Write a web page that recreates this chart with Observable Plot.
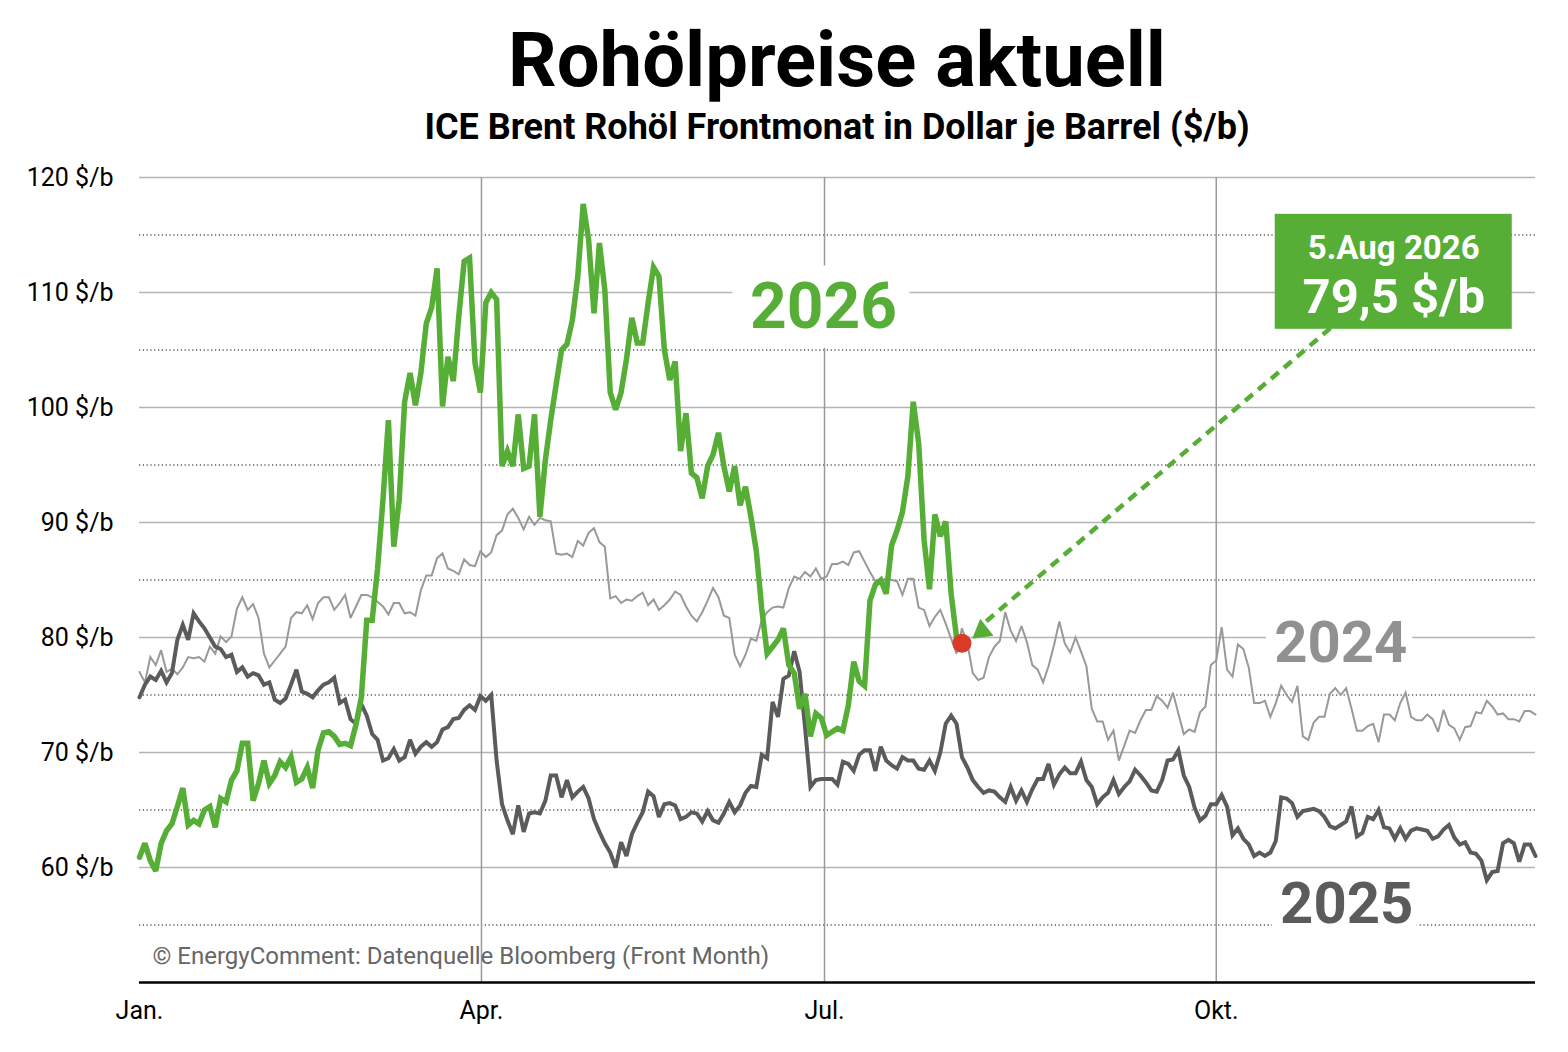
<!DOCTYPE html>
<html>
<head>
<meta charset="utf-8">
<script src="https://cdn.jsdelivr.net/npm/d3@7"></script>
<script src="https://cdn.jsdelivr.net/npm/@observablehq/plot@0.6"></script>
<style>
html, body { margin: 0; padding: 0; background: #fff; }
body { width: 1568px; height: 1052px; position: relative; overflow: hidden; font-family: Roboto, sans-serif; }
#title { position: absolute; left: 139px; width: 1396px; top: 22px; text-align: center; font-weight: 700; font-size: 76px; line-height: 76px; color: #000; }
#subtitle { position: absolute; left: 139px; width: 1396px; top: 109px; text-align: center; font-weight: 700; font-size: 36px; line-height: 36px; color: #000; }
#chart { position: absolute; left: 0; top: 150px; }
</style>
</head>
<body>
<div id="title">Rohölpreise aktuell</div>
<div id="subtitle">ICE Brent Rohöl Frontmonat in Dollar je Barrel ($/b)</div>
<div id="chart"></div>
<script>
// ---- Data (Brent front month, $/b, one value per trading day) ----
const tradingDays = 259;
const monthStarts = [0, 63.2, 126.6, 199];
const monthLabels = ["Jan.", "Apr.", "Jul.", "Okt."];
const gridMajor = [60, 70, 80, 90, 100, 110, 120];
const gridMinor = [55, 65, 75, 85, 95, 105, 115];

const brent2024 = [
  77.0, 76.1, 78.3, 77.6, 78.9, 77.0, 77.3, 76.8, 77.4, 78.3,
  78.2, 78.3, 77.9, 79.2, 78.6, 80.1, 79.6, 80.1, 82.5, 83.5,
  82.4, 82.9, 81.7, 78.6, 77.4, 78.0, 78.6, 79.2, 81.7, 82.2,
  82.1, 82.8, 81.6, 83.0, 83.5, 83.5, 82.4, 83.0, 83.7, 81.7,
  82.7, 83.7, 83.7, 83.5, 83.1, 82.7, 82.0, 83.0, 83.0, 82.1,
  82.2, 81.9, 84.1, 85.4, 85.4, 86.9, 87.3, 86.0, 85.8, 85.5,
  86.8, 86.3, 86.2, 87.5, 87.0, 87.4, 88.9, 89.3, 90.7, 91.2,
  90.4, 89.4, 90.5, 89.8, 90.4, 90.2, 90.1, 87.3, 87.2, 87.3,
  87.0, 88.4, 88.0, 89.1, 89.5, 88.3, 87.9, 83.4, 83.6, 83.0,
  83.3, 83.2, 83.6, 83.9, 82.8, 83.3, 82.4, 82.8, 83.3, 84.0,
  83.7, 82.7, 81.9, 81.4, 82.2, 83.2, 84.3, 83.5, 81.9, 81.7,
  78.5, 77.5, 78.5, 79.9, 79.7, 81.5, 82.2, 82.6, 82.7, 82.6,
  84.3, 85.3, 85.1, 85.7, 85.3, 86.0, 85.1, 85.3, 86.4, 86.4,
  86.6, 86.3, 87.4, 87.5, 86.6, 85.7, 84.9, 85.0, 85.1, 85.0,
  84.9, 83.7, 85.1, 85.1, 82.6, 82.4, 81.0, 81.8, 82.4, 81.2,
  79.9, 78.6, 80.8, 79.5, 76.9, 76.3, 76.5, 78.3, 79.2, 79.7,
  82.2, 80.6, 79.7, 81.0, 79.6, 77.6, 77.2, 76.1, 77.5, 79.3,
  81.4, 79.5, 78.7, 80.0, 78.8, 77.5, 73.8, 72.7, 72.7, 71.1,
  71.9, 69.3, 70.6, 71.9, 71.7, 72.8, 73.7, 73.7, 74.9, 74.5,
  73.9, 75.2, 73.4, 71.6, 72.0, 71.8, 73.5, 74.0, 77.6, 78.0,
  80.9, 77.2, 76.6, 79.4, 79.0, 77.4, 74.3, 74.3, 74.5, 73.1,
  74.3, 75.8, 75.0, 74.4, 75.8, 71.4, 71.1, 72.6, 73.1, 73.1,
  75.1, 75.6, 75.0, 75.6, 73.8, 71.9, 71.9, 72.3, 72.5, 70.9,
  73.3, 73.3, 72.8, 74.3, 75.2, 73.1, 72.8, 72.8, 73.3, 72.9,
  71.8, 73.7, 72.4, 72.1, 71.1, 72.2, 72.3, 73.5, 73.4, 74.5,
  74.0, 73.3, 73.4, 72.9, 72.9, 72.7, 73.6, 73.6, 73.3
];

const brent2025 = [
  74.8, 75.9, 76.6, 76.3, 77.1, 76.1, 76.9, 79.8, 81.1, 79.8,
  82.1, 81.4, 80.8, 80.0, 79.2, 79.0, 78.3, 78.5, 77.0, 77.4,
  76.6, 76.9, 76.7, 75.9, 76.1, 74.6, 74.3, 74.7, 75.9, 77.2,
  75.3, 75.1, 74.8, 75.4, 75.9, 76.1, 76.5, 74.3, 74.6, 72.9,
  72.5, 74.2, 73.2, 71.6, 71.1, 69.3, 69.5, 70.3, 69.3, 69.6,
  71.1, 69.9, 70.5, 70.9, 70.5, 70.9, 72.0, 72.2, 72.9, 73.0,
  73.7, 74.1, 73.7, 74.9, 74.5, 75.0, 69.3, 65.5, 64.1, 62.9,
  65.4, 63.1, 64.7, 64.8, 64.7, 65.8, 68.0, 68.0, 66.1, 67.6,
  66.1, 66.6, 67.0, 66.0, 64.2, 63.1, 62.1, 61.3, 60.0, 62.2,
  61.0, 62.9, 63.9, 64.8, 66.6, 66.2, 64.4, 65.5, 65.6, 65.4,
  64.2, 64.4, 64.8, 64.7, 64.0, 64.9, 64.1, 63.9, 64.7, 65.7,
  64.8, 65.4, 66.5, 67.1, 67.0, 69.8, 69.5, 74.4, 73.1, 76.4,
  76.7, 78.8, 77.0, 72.2, 67.0, 67.6, 67.7, 67.7, 67.7, 67.2,
  69.2, 69.0, 68.4, 69.8, 70.2, 70.2, 68.4, 70.5, 69.3, 68.9,
  68.6, 69.6, 69.3, 69.3, 68.6, 68.5, 69.3, 68.4, 70.0, 72.5,
  73.2, 72.5, 69.6, 68.7, 67.6, 67.0, 66.5, 66.7, 66.6, 66.1,
  65.7, 67.0, 65.8, 66.7, 65.7, 66.8, 67.7, 67.7, 69.0, 67.2,
  68.1, 68.7, 68.2, 68.2, 69.2, 67.6, 67.0, 65.5, 66.1, 66.5,
  67.6, 66.4, 67.0, 67.5, 68.5, 68.0, 67.4, 66.7, 66.6, 67.6,
  69.3, 69.4, 70.2, 68.0, 67.0, 65.2, 64.1, 64.5, 65.5, 65.5,
  66.3, 65.3, 62.8, 63.4, 62.5, 62.0, 61.0, 61.3, 61.0, 61.3,
  62.3, 66.1, 66.0, 65.6, 64.4, 64.9, 65.0, 65.1, 64.9, 64.4,
  63.6, 63.4, 63.7, 64.0, 65.3, 62.7, 63.0, 64.4, 64.2, 65.0,
  63.5, 63.4, 62.5, 63.4, 62.5, 63.2, 63.4, 63.3, 63.2, 62.5,
  62.7, 63.3, 63.7, 62.6, 62.0, 62.2, 61.3, 61.2, 60.6, 58.9,
  59.6, 59.7, 62.1, 62.4, 62.1, 60.5, 62.0, 62.0, 61.0
];

const brent2026 = [
  60.9, 62.1, 60.6, 59.7, 62.1, 63.2, 63.8, 65.3, 66.9, 63.7,
  64.1, 63.8, 65.0, 65.3, 63.5, 66.0, 65.7, 67.6, 68.4, 70.8,
  70.8, 65.8, 67.3, 69.3, 67.3, 68.0, 69.2, 68.7, 69.6, 67.4,
  67.7, 68.7, 66.9, 70.2, 71.7, 71.8, 71.4, 70.7, 70.8, 70.6,
  72.4, 74.8, 81.5, 81.5, 86.0, 92.0, 98.9, 87.9, 92.0, 100.5,
  103.0, 100.2, 103.0, 107.3, 108.7, 112.1, 100.1, 104.4, 102.3, 107.9,
  112.7, 113.0, 103.9, 101.3, 109.1, 110.0, 109.4, 94.9, 96.2, 94.9,
  99.4, 94.7, 94.9, 99.4, 90.5, 95.4, 98.9, 102.0, 105.0, 105.5,
  107.6, 111.4, 117.7, 114.6, 108.2, 114.3, 110.2, 101.3, 99.8, 101.3,
  104.2, 107.8, 105.6, 105.6, 109.1, 112.2, 111.4, 105.0, 102.4, 104.0,
  96.2, 99.5, 94.3, 93.9, 92.1, 94.9, 95.9, 97.8, 94.9, 92.7,
  94.9, 91.5, 93.1, 90.5, 87.5, 82.5, 78.6, 79.2, 79.8, 80.8,
  77.6, 76.9, 73.8, 75.1, 71.4, 73.4, 73.0, 71.5, 71.8, 72.1,
  71.9, 74.1, 77.9, 76.2, 75.8, 83.2, 84.6, 85.0, 83.8, 88.0,
  89.3, 90.9, 94.0, 100.5, 96.9, 88.5, 84.2, 90.7, 88.8, 90.1,
  83.8, 80.0, 79.5
];

const seriesYears = ["2024", "2025", "2026"];
const lastDateLabel = "5.Aug 2026";
const captionText = "© EnergyComment: Datenquelle Bloomberg (Front Month)";

// ---- Annotation placement (data coordinates) ----
const yearLabelX = [222.0, 223.1, 126.4];
const yearLabelY = [79.5, 56.8, 108.7];
const calloutX = [209.9, 253.7];
const calloutY = [106.8, 116.8];
const calloutTextY = [113.85, 109.6];
const arrowFrom = [220.1, 106.9];
const arrowTo = [155.2, 80.9];
const arrowHead = [155.7, 80.56];

// ---- Styles ----
const GREEN = "#56ae36";
const DARK = "#5b5b5b";
const LIGHT = "#999999";

const lastIdx = brent2026.length - 1;
const lastVal = brent2026[lastIdx];
const lastValueLabel = `${lastVal.toFixed(1).replace(".", ",")} $/b`;

const line = (arr, opts) => Plot.line(arr, {x: (d, i) => i, y: d => d, strokeLinejoin: "miter", strokeMiterlimit: 3, ...opts});

const chart = Plot.plot({
  width: 1568,
  height: 902,
  marginTop: 27,
  marginBottom: 70,
  marginLeft: 139,
  marginRight: 33,
  style: {fontFamily: "Roboto, sans-serif", background: "white", overflow: "visible"},
  x: {domain: [0, tradingDays - 1], axis: null},
  y: {domain: [50, 120], axis: null},
  marks: [
    Plot.ruleY(gridMinor, {stroke: "#000", strokeWidth: 1.2, strokeDasharray: "1.2,2.6"}),
    Plot.ruleY(gridMajor, {stroke: "#b5b5b5", strokeWidth: 1.5}),
    Plot.ruleX(monthStarts.slice(1), {stroke: "#9a9a9a", strokeWidth: 1.5}),
    Plot.ruleY([50], {stroke: "#000", strokeWidth: 2.5}),
    Plot.axisY({ticks: gridMajor, tickSize: 0, tickPadding: 26, tickFormat: d => `${d} $/b`, fontSize: 25, fill: "#000", label: null}),
    Plot.axisX({ticks: monthStarts, tickSize: 0, tickPadding: 19, tickFormat: d => monthLabels[monthStarts.indexOf(d)], fontSize: 25, fill: "#000", label: null}),
    Plot.text([captionText], {frameAnchor: "bottom-left", dx: 13, dy: -26.5, textAnchor: "start", lineAnchor: "middle", fontSize: 24, fill: "#666"}),
    // year labels with white background halo
    Plot.text([seriesYears[2]], {x: yearLabelX[2], y: yearLabelY[2], fontSize: 64, fontWeight: "bold", fill: GREEN, stroke: "white", strokeWidth: 40, strokeLinejoin: "round", lineAnchor: "middle"}),
    Plot.text([seriesYears[0]], {x: yearLabelX[0], y: yearLabelY[0], fontSize: 58, fontWeight: "bold", fill: "#919191", stroke: "white", strokeWidth: 22, strokeLinejoin: "round", lineAnchor: "middle"}),
    Plot.text([seriesYears[1]], {x: yearLabelX[1], y: yearLabelY[1], fontSize: 58, fontWeight: "bold", fill: DARK, stroke: "white", strokeWidth: 22, strokeLinejoin: "round", lineAnchor: "middle"}),
    // series
    line(brent2024, {stroke: LIGHT, strokeWidth: 2}),
    line(brent2025, {stroke: DARK, strokeWidth: 4}),
    line(brent2026, {stroke: GREEN, strokeWidth: 5.5}),
    // arrow
    Plot.link([0], {x1: arrowFrom[0], y1: arrowFrom[1], x2: arrowTo[0], y2: arrowTo[1], stroke: GREEN, strokeWidth: 4.5, strokeDasharray: "10,7"}),
    Plot.dot([0], {x: arrowHead[0], y: arrowHead[1], symbol: "triangle", r: 8, fill: GREEN, rotate: 232}),
    // last value marker
    Plot.dot([lastVal], {x: lastIdx, y: d => d, r: 9.5, fill: "#db3a28"}),
    // callout box
    Plot.rect([0], {x1: calloutX[0], x2: calloutX[1], y1: calloutY[0], y2: calloutY[1], fill: GREEN}),
    Plot.text([lastDateLabel], {x: (calloutX[0] + calloutX[1]) / 2, y: calloutTextY[0], fontSize: 33, fontWeight: "bold", fill: "white", lineAnchor: "middle"}),
    Plot.text([lastValueLabel], {x: (calloutX[0] + calloutX[1]) / 2, y: calloutTextY[1], fontSize: 49, fontWeight: "bold", fill: "white", lineAnchor: "middle"})
  ]
});
document.getElementById("chart").append(chart);
</script>
</body>
</html>
